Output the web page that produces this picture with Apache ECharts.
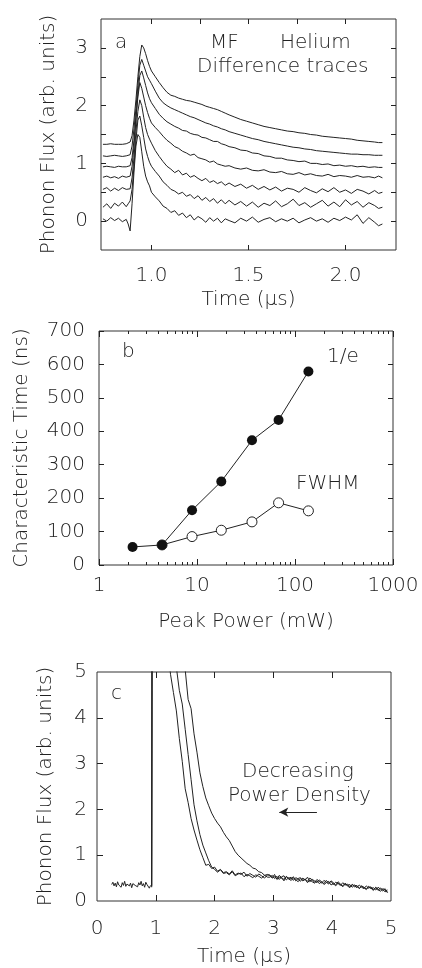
<!DOCTYPE html>
<html>
<head>
<meta charset="utf-8">
<script src="https://cdn.jsdelivr.net/npm/echarts@6/dist/echarts.min.js"></script>
<style>
  html, body { margin: 0; padding: 0; background: #fff; }
  #chart { width: 422px; height: 968px; }
</style>
</head>
<body>
<div id="chart"></div>
<script>
// ---- panel a: difference traces ----
const timeA = [0.75, 0.77, 0.79, 0.81, 0.83, 0.85, 0.87,
  0.88, 0.89, 0.90, 0.91, 0.92, 0.93, 0.94, 0.95, 0.96, 0.97, 0.98, 0.99, 1.00,
  1.02, 1.04, 1.06, 1.08, 1.10, 1.12, 1.14, 1.16, 1.18, 1.20, 1.22, 1.24, 1.26, 1.28, 1.30, 1.32, 1.34, 1.36, 1.38, 1.40,
  1.43, 1.46, 1.49, 1.52, 1.55, 1.58, 1.61, 1.64, 1.67, 1.70, 1.73, 1.76, 1.79, 1.82, 1.85, 1.88, 1.91, 1.94, 1.97, 2.00, 2.03, 2.06, 2.09, 2.12, 2.15,
  2.17, 2.19]
const traceA1 = [1.33, 1.33, 1.34, 1.33, 1.33, 1.33, 1.34,
  1.34, 1.37, 1.48, 1.75, 2.10, 2.50, 2.85, 3.05, 3.00, 2.90, 2.78, 2.68, 2.60,
  2.50, 2.40, 2.31, 2.23, 2.18, 2.16, 2.13, 2.11, 2.09, 2.08, 2.06, 2.04, 2.02, 1.99, 1.97, 1.95, 1.93, 1.90, 1.87, 1.84,
  1.80, 1.76, 1.73, 1.70, 1.67, 1.64, 1.62, 1.60, 1.58, 1.56, 1.55, 1.53, 1.52, 1.50, 1.49, 1.47, 1.46, 1.45, 1.44, 1.43, 1.42, 1.40, 1.39, 1.38, 1.37,
  1.36, 1.36]
const traceA2 = [1.13, 1.12, 1.13, 1.14, 1.13, 1.12, 1.13,
  1.13, 1.15, 1.30, 1.60, 1.95, 2.35, 2.70, 2.80, 2.70, 2.60, 2.50, 2.44, 2.38,
  2.25, 2.13, 2.05, 2.00, 1.96, 1.93, 1.90, 1.87, 1.84, 1.81, 1.79, 1.76, 1.73, 1.70, 1.68, 1.65, 1.63, 1.60, 1.58, 1.55,
  1.52, 1.49, 1.46, 1.43, 1.41, 1.38, 1.36, 1.34, 1.32, 1.30, 1.28, 1.27, 1.25, 1.24, 1.22, 1.21, 1.20, 1.19, 1.18, 1.17, 1.16, 1.16, 1.15, 1.15, 1.14,
  1.14, 1.14]
const traceA3 = [0.94, 0.95, 0.94, 0.93, 0.95, 0.94, 0.94,
  0.95, 0.96, 1.10, 1.40, 1.80, 2.20, 2.52, 2.60, 2.48, 2.35, 2.22, 2.12, 2.05,
  1.95, 1.85, 1.78, 1.72, 1.68, 1.64, 1.61, 1.57, 1.56, 1.52, 1.50, 1.49, 1.45, 1.44, 1.41, 1.38, 1.38, 1.34, 1.32, 1.29,
  1.27, 1.23, 1.22, 1.18, 1.17, 1.13, 1.12, 1.09, 1.09, 1.06, 1.05, 1.03, 1.04, 1.00, 1.00, 0.98, 0.99, 0.96, 0.97, 0.95, 0.96, 0.94, 0.95, 0.93, 0.94,
  0.93, 0.93]
const traceA4 = [0.76, 0.78, 0.75, 0.77, 0.74, 0.78, 0.76,
  0.75, 0.78, 0.95, 1.30, 1.75, 2.15, 2.40, 2.30, 2.15, 2.00, 1.88, 1.78, 1.70,
  1.62, 1.55, 1.47, 1.40, 1.35, 1.29, 1.26, 1.21, 1.18, 1.14, 1.16, 1.10, 1.08, 1.06, 1.02, 1.04, 0.99, 0.97, 0.95, 0.96,
  0.92, 0.90, 0.92, 0.88, 0.87, 0.89, 0.85, 0.84, 0.86, 0.82, 0.81, 0.84, 0.80, 0.82, 0.79, 0.78, 0.81, 0.77, 0.79, 0.78, 0.76, 0.79, 0.76, 0.77, 0.75,
  0.78, 0.75]
const traceA5 = [0.55, 0.58, 0.52, 0.57, 0.53, 0.58, 0.55,
  0.52, 0.56, 0.75, 1.10, 1.55, 1.90, 2.10, 2.00, 1.80, 1.62, 1.50, 1.42, 1.35,
  1.22, 1.12, 1.03, 0.95, 0.90, 0.84, 0.88, 0.80, 0.83, 0.76, 0.79, 0.74, 0.70, 0.74, 0.67, 0.70, 0.65, 0.68, 0.62, 0.66,
  0.60, 0.64, 0.57, 0.62, 0.55, 0.60, 0.54, 0.59, 0.52, 0.57, 0.55, 0.50, 0.58, 0.53, 0.49, 0.56, 0.51, 0.58, 0.50, 0.54, 0.48, 0.55, 0.52, 0.47, 0.53,
  0.48, 0.50]
const traceA6 = [0.24, 0.30, 0.22, 0.31, 0.26, 0.33, 0.25,
  0.30, 0.35, 0.55, 0.95, 1.40, 1.75, 1.82, 1.65, 1.45, 1.25, 1.12, 1.02, 0.95,
  0.86, 0.78, 0.68, 0.62, 0.55, 0.52, 0.47, 0.50, 0.43, 0.46, 0.39, 0.44, 0.36, 0.41, 0.34, 0.39, 0.31, 0.37, 0.30, 0.36,
  0.28, 0.34, 0.26, 0.33, 0.24, 0.31, 0.27, 0.35, 0.25, 0.30, 0.38, 0.27, 0.32, 0.24, 0.30, 0.36, 0.26, 0.33, 0.25, 0.37, 0.28, 0.34, 0.24, 0.32, 0.27,
  0.22, 0.24]
const traceA7 = [0.04, 0.00, 0.06, 0.01, 0.05, -0.01, 0.03,
  -0.05, -0.17, 0.30, 0.85, 1.30, 1.50, 1.45, 1.20, 0.95, 0.78, 0.68, 0.61, 0.50,
  0.42, 0.35, 0.26, 0.22, 0.15, 0.18, 0.10, 0.14, 0.06, 0.11, 0.02, 0.08, 0.04, -0.02, 0.06, 0.00, 0.05, -0.03, 0.04, 0.01,
  -0.03, 0.05, 0.00, 0.07, -0.02, 0.03, 0.06, -0.01, 0.04, 0.00, 0.05, -0.03, 0.02, 0.06, 0.00, 0.04, -0.02, 0.05, 0.01, 0.07, 0.02, 0.11, -0.04, 0.06, -0.02,
  -0.08, -0.05]
const tracesA = [traceA1, traceA2, traceA3, traceA4, traceA5, traceA6, traceA7]
const ticksAx = [1.0, 1.5, 2.0]
const ticksAxTop = [1.0, 1.25, 1.5, 1.75, 2.0]
const ticksAy = [0, 0.5, 1, 1.5, 2, 2.5, 3]
const labelsAy = [0, 1, 2, 3]

// ---- panel b: characteristic time vs peak power ----
const powerB = [2.2, 4.4, 8.9, 17.7, 36.4, 68, 137]
const tauE = [54, 60, 164, 250, 373, 434, 579]
const powerFwhm = [4.4, 8.9, 17.7, 36.4, 68, 137]
const tauFwhm = [60, 85, 104, 129, 186, 162]
const logMinor = [2, 3, 4, 5, 6, 7, 8, 9, 20, 30, 40, 50, 60, 70, 80, 90, 200, 300, 400, 500, 600, 700, 800, 900]
const logMajor = [1, 10, 100, 1000]

// ---- panel c: decays at three power densities ----
const timePreC = [0.25, 0.27, 0.29, 0.31, 0.33, 0.35, 0.37, 0.39, 0.41, 0.43, 0.45, 0.47, 0.49, 0.51, 0.53, 0.55, 0.57,
  0.59, 0.61, 0.63, 0.65, 0.67, 0.69, 0.71, 0.73, 0.75, 0.77, 0.79, 0.81, 0.83, 0.85, 0.87, 0.89, 0.91]
const basePreC = [0.36, 0.41, 0.33, 0.39, 0.31, 0.42, 0.35, 0.38, 0.30, 0.40, 0.34, 0.43, 0.32, 0.37, 0.41, 0.33, 0.39,
  0.29, 0.38, 0.42, 0.34, 0.36, 0.31, 0.40, 0.35, 0.43, 0.33, 0.38, 0.30, 0.41, 0.36, 0.39, 0.28, 0.34]
const timeC = [0.93, 0.94, 1.00, 1.10, 1.20,
  1.25, 1.30, 1.35, 1.40, 1.45, 1.50, 1.55, 1.60, 1.65, 1.70, 1.75, 1.80,
  1.85, 1.90, 1.95, 2.00, 2.05, 2.10, 2.15, 2.20, 2.25, 2.30, 2.35, 2.40, 2.45, 2.50, 2.55, 2.60, 2.65, 2.70, 2.75, 2.80, 2.85, 2.90,
  2.94, 2.98, 3.02, 3.06, 3.10, 3.14, 3.18, 3.22, 3.26, 3.30,
  3.34, 3.38, 3.42, 3.46, 3.50, 3.54, 3.58, 3.62, 3.66, 3.70,
  3.74, 3.78, 3.82, 3.86, 3.90, 3.94, 3.98, 4.02, 4.06, 4.10,
  4.14, 4.18, 4.22, 4.26, 4.30, 4.34, 4.38, 4.42, 4.46, 4.50,
  4.54, 4.58, 4.62, 4.66, 4.70, 4.74, 4.78, 4.82, 4.86, 4.90, 4.94]
const decayC1 = [0.32, 9, 9, 9, 5.6,
  4.95, 4.55, 4.15, 3.55, 3.05, 2.45, 2.15, 1.80, 1.55, 1.33, 1.12, 0.95,
  0.78, 0.80, 0.71, 0.74, 0.65, 0.69, 0.62, 0.64, 0.59, 0.66, 0.57, 0.61, 0.58, 0.63, 0.54, 0.60, 0.56, 0.52, 0.59, 0.55, 0.50, 0.57,
  0.57, 0.50, 0.53, 0.48, 0.56, 0.51, 0.47, 0.54, 0.49, 0.52,
  0.45, 0.51, 0.48, 0.43, 0.50, 0.46, 0.52, 0.42, 0.47, 0.44,
  0.40, 0.46, 0.42, 0.38, 0.45, 0.39, 0.43, 0.36, 0.41, 0.38,
  0.34, 0.40, 0.35, 0.37, 0.31, 0.36, 0.33, 0.29, 0.35, 0.30,
  0.27, 0.33, 0.28, 0.31, 0.25, 0.29, 0.23, 0.28, 0.25, 0.20, 0.24]
const decayC2 = [0.34, 9, 9, 9, 8,
  6.5, 5.8, 5.1, 4.6, 4.3, 3.75, 3.2, 2.65, 2.1, 1.75, 1.45, 1.22,
  1.05, 0.88, 0.74, 0.69, 0.63, 0.68, 0.60, 0.62, 0.57, 0.64, 0.55, 0.59, 0.61, 0.53, 0.58, 0.55, 0.51, 0.57, 0.54, 0.50, 0.56, 0.52,
  0.52, 0.56, 0.49, 0.54, 0.47, 0.53, 0.55, 0.46, 0.51, 0.48,
  0.53, 0.44, 0.49, 0.51, 0.45, 0.48, 0.43, 0.50, 0.46, 0.41,
  0.47, 0.43, 0.39, 0.45, 0.41, 0.37, 0.44, 0.40, 0.35, 0.42,
  0.37, 0.33, 0.39, 0.34, 0.36, 0.30, 0.35, 0.32, 0.28, 0.33,
  0.30, 0.26, 0.32, 0.27, 0.29, 0.24, 0.30, 0.26, 0.22, 0.27, 0.19]
const decayC3 = [0.30, 9, 9, 9, 9,
  8.0, 7.2, 6.5, 5.9, 5.4, 5.05, 4.40, 4.20, 3.65, 3.25, 2.80, 2.50,
  2.25, 2.08, 1.92, 1.80, 1.70, 1.62, 1.50, 1.40, 1.32, 1.20, 1.08, 1.00, 0.94, 0.88, 0.82, 0.78, 0.72, 0.70, 0.64, 0.62, 0.56, 0.58,
  0.55, 0.51, 0.58, 0.47, 0.52, 0.50, 0.44, 0.53, 0.48, 0.45,
  0.50, 0.47, 0.42, 0.49, 0.44, 0.47, 0.40, 0.46, 0.42, 0.39,
  0.44, 0.38, 0.42, 0.36, 0.40, 0.43, 0.35, 0.38, 0.33, 0.39,
  0.36, 0.31, 0.37, 0.33, 0.29, 0.36, 0.31, 0.34, 0.27, 0.32,
  0.29, 0.25, 0.31, 0.28, 0.23, 0.30, 0.26, 0.21, 0.27, 0.24, 0.18]
const decaysC = [decayC1, decayC2, decayC3]
const arrowC = { from: [3.74, 1.94], to: [3.10, 1.94] }

const ink = '#222'
const FONT = 'DejaVu Sans'
const FONT_CSS = '200 20px "DejaVu Sans"'
const txt = { color: ink, fontFamily: FONT, fontSize: 20, fontWeight: 200 }
const off = { show: false }
const noLine = { show: false, onZero: false }
const tick = (values, len) => ({ show: true, inside: true, length: len || 5, customValues: values, lineStyle: { color: ink, width: 1 } })

function frameAxis(grid, pos, min, max, ticks, len) {
  return {
    gridIndex: grid, type: 'value', position: pos, min, max,
    axisLine: noLine, splitLine: off, axisLabel: off, axisTick: tick(ticks, len),
  }
}

function note(text, left, top) {
  return { type: 'text', left, top, style: { text, font: FONT_CSS, fill: ink } }
}

const chart = echarts.init(document.getElementById('chart'), null, { renderer: 'canvas' })

const series = []
tracesA.forEach((tr, k) => {
  series.push({
    name: 'a' + k, type: 'line', xAxisIndex: 0, yAxisIndex: 0,
    data: timeA.map((t, i) => [t, tr[i]]),
    showSymbol: false, lineStyle: { color: ink, width: 1 }, silent: true,
  })
})
series.push({
  name: 'FWHM', type: 'line', xAxisIndex: 2, yAxisIndex: 2,
  data: powerFwhm.map((p, i) => [p, tauFwhm[i]]),
  symbol: 'circle', symbolSize: 10,
  itemStyle: { color: '#fff', borderColor: ink, borderWidth: 1 },
  lineStyle: { color: ink, width: 1 }, z: 3,
})
series.push({
  name: '1/e', type: 'line', xAxisIndex: 2, yAxisIndex: 2,
  data: powerB.map((p, i) => [p, tauE[i]]),
  symbol: 'circle', symbolSize: 10,
  itemStyle: { color: '#111' },
  lineStyle: { color: ink, width: 1 }, z: 4,
})
series.push({
  name: 'pre', type: 'line', xAxisIndex: 6, yAxisIndex: 4,
  data: timePreC.map((t, i) => [t, basePreC[i]]),
  showSymbol: false, lineStyle: { color: ink, width: 1 },
  markLine: {
    silent: true, symbol: ['none', 'arrow'], symbolSize: [7, 9],
    lineStyle: { color: ink, width: 1.2, type: 'solid' }, label: off,
    data: [[{ coord: arrowC.from }, { coord: arrowC.to }]],
  },
})
decaysC.forEach((tr, k) => {
  series.push({
    name: 'c' + k, type: 'line', xAxisIndex: 6, yAxisIndex: 4,
    data: timeC.map((t, i) => [t, tr[i]]),
    showSymbol: false, lineStyle: { color: ink, width: 1 }, silent: true,
  })
})

const gridStyle = { show: true, borderColor: '#333', borderWidth: 1, backgroundColor: 'transparent' }

chart.setOption({
  animation: false,
  backgroundColor: '#fff',
  grid: [
    { left: 101, top: 19, width: 295, height: 231, ...gridStyle },
    { left: 99, top: 331, width: 294, height: 234, ...gridStyle },
    { left: 97, top: 672, width: 294, height: 231, ...gridStyle },
  ],
  xAxis: [
    {
      gridIndex: 0, type: 'value', position: 'bottom', min: 0.74, max: 2.26,
      axisLine: noLine, splitLine: off, axisTick: tick(ticksAx),
      axisLabel: { ...txt, customValues: ticksAx, formatter: (v) => v.toFixed(1), margin: 16 },
      name: 'Time (\u03bcs)', nameLocation: 'middle', nameGap: 40, nameTextStyle: txt,
    },
    frameAxis(0, 'top', 0.74, 2.26, ticksAxTop),
    {
      gridIndex: 1, type: 'log', logBase: 10, position: 'bottom', min: 1, max: 1000,
      axisLine: noLine, splitLine: off, minorTick: off,
      axisTick: { show: true, inside: true, length: 6, lineStyle: { color: ink } },
      axisLabel: { ...txt, margin: 11, formatter: (v) => String(v) },
      name: 'Peak Power (mW)', nameLocation: 'middle', nameGap: 47, nameTextStyle: txt,
    },
    frameAxis(1, 'bottom', 0, 3, logMinor.map(Math.log10), 3),
    frameAxis(1, 'top', 0, 3, logMinor.map(Math.log10), 3),
    frameAxis(1, 'top', 0, 3, logMajor.map(Math.log10), 6),
    {
      gridIndex: 2, type: 'value', position: 'bottom', min: 0, max: 5, interval: 1,
      axisLine: noLine, splitLine: off, axisTick: tick([1, 2, 3, 4], 6),
      axisLabel: { ...txt, margin: 18 },
      name: 'Time (\u03bcs)', nameLocation: 'middle', nameGap: 46, nameTextStyle: txt,
    },
    frameAxis(2, 'top', 0, 5, [1, 2, 3, 4], 6),
  ],
  yAxis: [
    {
      gridIndex: 0, type: 'value', position: 'left', min: -0.5, max: 3.5,
      axisLine: noLine, splitLine: off, axisTick: tick(ticksAy),
      axisLabel: { ...txt, customValues: labelsAy, margin: 13 },
      name: 'Phonon Flux (arb. units)', nameLocation: 'middle', nameGap: 42, nameTextStyle: txt,
    },
    frameAxis(0, 'right', -0.5, 3.5, ticksAy),
    {
      gridIndex: 1, type: 'value', position: 'left', min: 0, max: 700, interval: 100,
      axisLine: noLine, splitLine: off, axisTick: { show: true, inside: true, length: 5, lineStyle: { color: ink } },
      axisLabel: { ...txt, margin: 14 },
      name: 'Characteristic Time (ns)', nameLocation: 'middle', nameGap: 67, nameTextStyle: txt,
    },
    frameAxis(1, 'right', 0, 700, [100, 200, 300, 400, 500, 600]),
    {
      gridIndex: 2, type: 'value', position: 'left', min: 0, max: 5, interval: 1,
      axisLine: noLine, splitLine: off, axisTick: tick([1, 2, 3, 4], 6),
      axisLabel: { ...txt, margin: 10 },
      name: 'Phonon Flux (arb. units)', nameLocation: 'middle', nameGap: 41, nameTextStyle: txt,
    },
    frameAxis(2, 'right', 0, 5, [1, 2, 3, 4], 6),
  ],
  graphic: [
    note('a', 115, 33),
    note('MF', 210, 33),
    note('Helium', 280, 33),
    note('Difference traces', 197, 57),
    note('b', 122, 342),
    note('1/e', 327, 347),
    note('FWHM', 296, 474),
    note('c', 111, 684),
    note('Decreasing', 242, 762),
    note('Power Density', 228, 786),
  ],
  series,
})
</script>
</body>
</html>
